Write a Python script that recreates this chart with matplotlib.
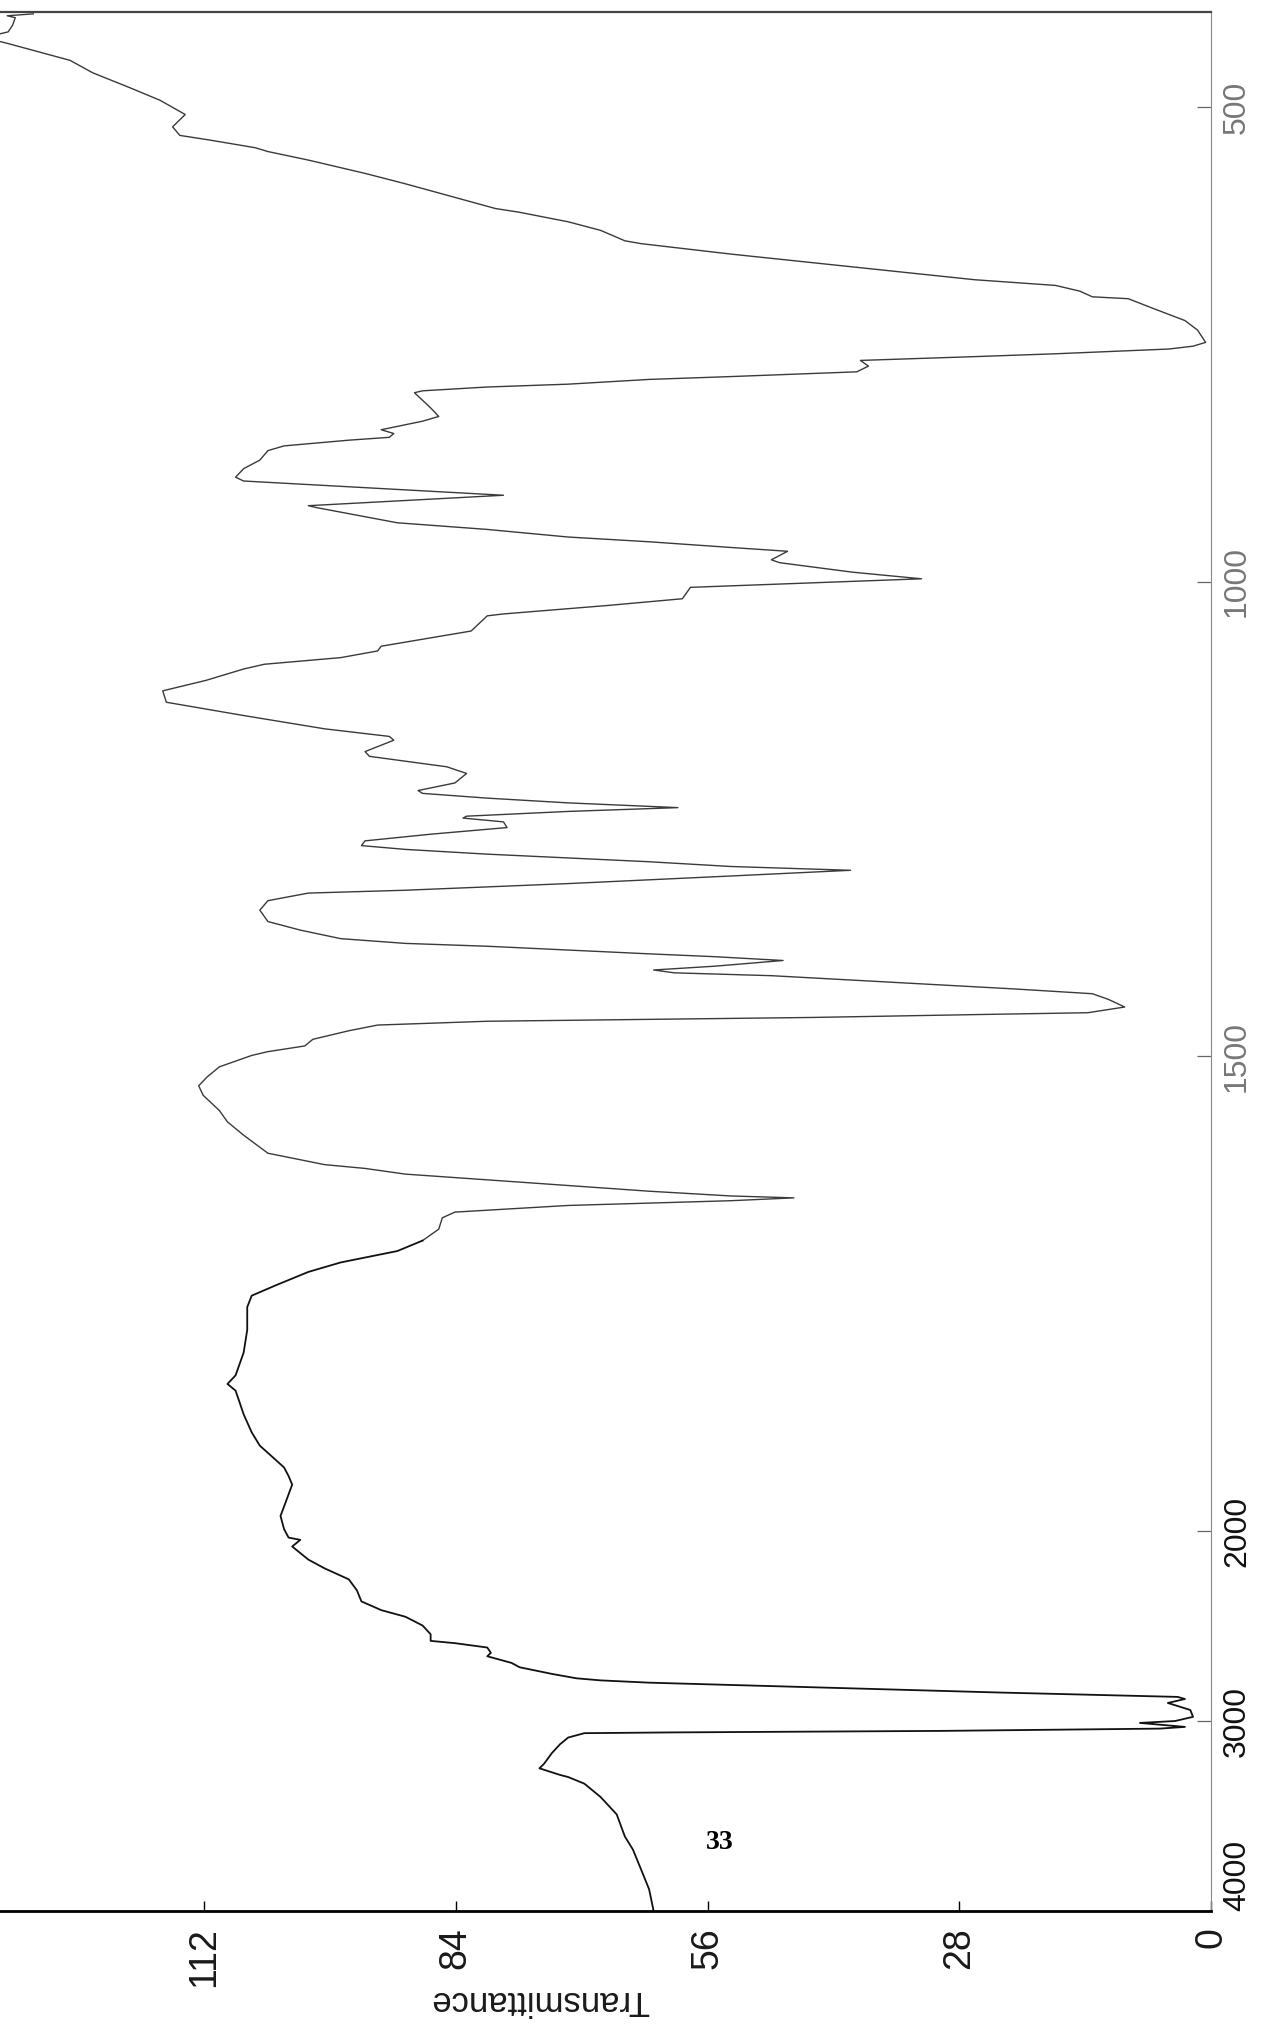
import numpy as np
import matplotlib.pyplot as plt
from matplotlib.ticker import NullLocator

plt.rcParams['font.family'] = ['Liberation Sans', 'DejaVu Sans']

# IR spectrum, sample 33 (wavenumber in cm-1, transmittance)
wavenumber = [402, 404, 406, 414, 421, 427, 433, 451, 464, 480, 493, 508, 521, 530, 535, 543,
              547, 556, 570, 581, 593, 607, 611, 621, 630, 641, 644, 655, 664, 673, 682, 688,
              694, 700, 702, 712, 725, 735, 748, 752, 755, 760, 763, 767, 773, 779, 784, 787,
              792, 795, 799, 801, 817, 826, 831, 840, 844, 848, 851, 857, 862, 872, 881, 890,
              894, 909, 920, 922, 938, 945, 953, 958, 964, 968, 977, 980, 990, 997, 1006, 1018,
              1025, 1034, 1036, 1052, 1068, 1073, 1080, 1087, 1092, 1104, 1115, 1127, 1141, 1155, 1163, 1167,
              1179, 1184, 1195, 1202, 1212, 1220, 1223, 1228, 1233, 1238, 1242, 1247, 1249, 1253, 1259, 1266,
              1273, 1278, 1282, 1287, 1291, 1295, 1300, 1304, 1310, 1318, 1325, 1328, 1336, 1346, 1358, 1367,
              1376, 1381, 1384, 1388, 1392, 1395, 1399, 1405, 1409, 1412, 1415, 1422, 1429, 1434, 1440, 1448,
              1454, 1456, 1459, 1461, 1463, 1467, 1473, 1482, 1489, 1495, 1499, 1511, 1522, 1531, 1541, 1557,
              1569, 1583, 1602, 1614, 1618, 1624, 1630, 1636, 1642, 1647, 1649, 1652, 1657, 1664, 1670, 1682,
              1694, 1705, 1717, 1727, 1734, 1741, 1752, 1764, 1788, 1812, 1836, 1845, 1852, 1863, 1877, 1896,
              1910, 1921, 1933, 1942, 1951, 1974, 1984, 1998, 2034, 2046, 2081, 2150, 2196, 2254, 2312, 2370,
              2416, 2451, 2497, 2543, 2578, 2590, 2613, 2641, 2659, 2694, 2717, 2752, 2775, 2786, 2798, 2850,
              2873, 2884, 2905, 2942, 2978, 3000, 3010, 3031, 3040, 3052, 3060, 3064, 3087, 3122, 3168, 3226,
              3249, 3284, 3295, 3330, 3400, 3492, 3608, 3677, 3781, 3886, 4000]
transmittance = [131.0, 133.9, 133.0, 133.3, 133.8, 136.5, 133.9, 126.9, 124.4, 120.2, 116.9, 114.1, 115.5, 114.7, 111.3, 106.3,
                 104.9, 100.4, 94.1, 89.6, 85.0, 79.6, 76.9, 71.5, 67.9, 65.2, 63.4, 53.4, 44.4, 35.4, 26.3, 17.3,
                 14.6, 13.2, 9.2, 6.5, 2.9, 1.5, 0.6, 2.0, 4.7, 17.3, 26.3, 39.0, 38.1, 39.4, 53.4, 62.5,
                 71.5, 80.5, 87.7, 88.6, 86.8, 85.9, 87.7, 92.3, 90.9, 91.4, 95.9, 103.1, 104.9, 105.8, 107.6, 108.5,
                 107.6, 78.7, 100.4, 99.5, 90.5, 80.5, 71.5, 62.5, 53.4, 47.1, 48.9, 48.0, 39.9, 32.2, 57.9, 58.8,
                 67.0, 78.7, 80.5, 82.3, 92.3, 92.7, 96.8, 105.3, 107.6, 111.8, 116.6, 116.2, 107.6, 98.6, 91.4, 90.9,
                 94.1, 93.6, 85.0, 82.8, 84.1, 88.2, 87.7, 80.5, 71.5, 59.3, 71.5, 82.8, 83.2, 78.7, 78.3, 86.8,
                 94.1, 94.5, 89.6, 80.5, 71.5, 62.5, 53.4, 40.1, 53.4, 71.5, 89.6, 100.4, 104.9, 105.8, 104.9, 101.3,
                 96.8, 89.6, 80.5, 71.5, 62.5, 55.2, 47.6, 55.2, 62.0, 59.7, 48.9, 35.4, 21.8, 13.2, 11.4, 9.6,
                 13.7, 26.3, 44.4, 62.5, 80.5, 92.7, 95.9, 99.9, 100.8, 104.9, 106.7, 110.3, 111.7, 112.6, 112.1, 110.3,
                 109.4, 107.6, 104.9, 98.6, 94.1, 89.6, 80.5, 71.5, 62.5, 53.4, 46.4, 53.4, 71.5, 84.1, 85.5, 85.9,
                 87.7, 90.5, 96.8, 100.4, 102.2, 104.0, 106.7, 107.2, 107.2, 107.6, 108.5, 109.4, 108.5, 108.1, 107.6, 106.7,
                 105.8, 104.5, 103.1, 102.6, 102.2, 103.1, 103.5, 103.1, 102.6, 101.3, 102.2, 100.4, 98.6, 95.9, 95.0, 94.5,
                 92.3, 89.6, 87.7, 86.8, 86.8, 84.1, 80.5, 80.1, 80.5, 77.8, 76.9, 73.3, 70.6, 67.9, 62.5, 23.5,
                 3.7, 2.9, 4.8, 2.3, 2.0, 4.0, 7.9, 2.9, 5.7, 30.0, 60.0, 69.7, 71.5, 72.4, 73.3, 74.2,
                 74.7, 72.4, 71.5, 69.7, 67.9, 66.1, 65.2, 64.3, 63.4, 62.5, 62.0]

t_ticks = [0, 28, 56, 84, 112]
wn_ticks = [4000, 3000, 2000, 1500, 1000, 500]


# chart paper: 4000-2000 cm-1 compressed five times relative to 2000-400
def wn_forward(w):
    w = np.asarray(w, dtype=float)
    return np.where(w >= 2000, (w - 4000) / 5.0, w - 2400)


def wn_inverse(t):
    t = np.asarray(t, dtype=float)
    return np.where(t >= -400, 4000 + 5.0 * t, t + 2400)


fig = plt.figure(figsize=(12.71, 20.29), dpi=100)
ax = fig.add_axes([0.0, 0.0582, 0.9528, 0.9359])

# the pen trace is fainter at the low-wavenumber end
wn = np.array(wavenumber)
tr = np.array(transmittance)
low = wn <= 1700
high = wn >= 1694
ax.plot(tr[low], wn[low], color='#3a3a3a', lw=1.0, solid_joinstyle='round')
ax.plot(tr[high], wn[high], color='#111111', lw=1.3, solid_joinstyle='round')

ax.set_yscale('function', functions=(wn_forward, wn_inverse))
ax.set_ylim(4000, 400)
ax.set_xlim(134.7, 0)

# frame
ax.spines['left'].set_visible(False)
ax.spines['top'].set_linewidth(1.6)
ax.spines['top'].set_color('#444444')
ax.spines['right'].set_linewidth(0.8)
ax.spines['right'].set_color('#888888')
ax.spines['bottom'].set_linewidth(2.0)
ax.spines['bottom'].set_color('black')

# wavenumber axis on the right
ax.yaxis.set_ticks_position('right')
ax.set_yticks(wn_ticks)
ax.set_yticklabels([str(t) for t in wn_ticks])
ax.yaxis.set_minor_locator(NullLocator())
ax.tick_params(axis='y', direction='in', length=10, width=0.9, pad=8,
               labelsize=23, labelrotation=90, color='#666666')
for lab, w in zip(ax.get_yticklabels(), wn_ticks):
    lab.set_color('#111111' if w >= 2000 else '#777777')
    lab.set_va('bottom' if w == 4000 else 'center')

# transmittance axis along the bottom
ax.set_xticks(t_ticks)
ax.set_xticklabels([str(t) for t in t_ticks])
ax.xaxis.set_minor_locator(NullLocator())
ax.tick_params(axis='x', direction='in', length=7, width=1.0, pad=12,
               labelsize=27, labelrotation=90, labelcolor='#1a1a1a')

ax.set_xlabel('Transmittance', fontsize=25, rotation=180, color='#1a1a1a')
ax.xaxis.label.set_va('center')
ax.xaxis.set_label_coords(0.446, -0.047)

ax.text(54.6, 3640, '33', fontfamily='Liberation Serif', fontweight='bold',
        fontsize=20, ha='center', va='center')

fig.savefig('out.png', dpi=100)
